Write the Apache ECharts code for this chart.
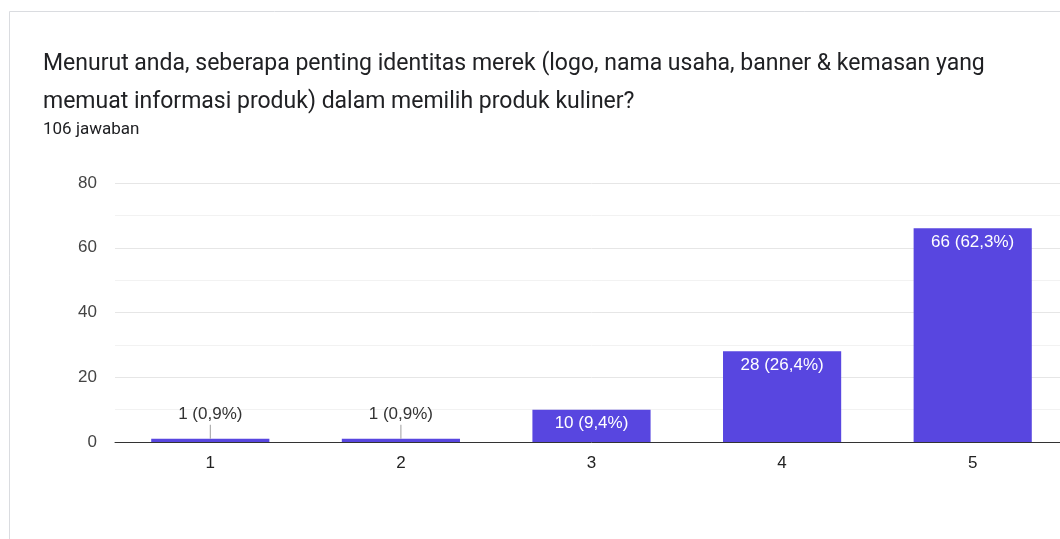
<!DOCTYPE html>
<html>
<head>
<meta charset="utf-8">
<script src="https://cdn.jsdelivr.net/npm/echarts@6/dist/echarts.min.js"></script>
<style>
  html, body { margin: 0; padding: 0; background: #fff; overflow: hidden; }
  /* the plot runs a few px past the right edge of the window in the original */
  #main { width: 1068px; height: 539px; }
</style>
</head>
<body>
<div id="main"></div>
<script>
var categories = ['1', '2', '3', '4', '5'];
var counts = [1, 1, 10, 28, 66];
var percents = ['0,9', '0,9', '9,4', '26,4', '62,3'];
var yTicks = [0, 20, 40, 60, 80];

var barColor = '#5846e0';
var font = 'Roboto, "Noto Sans", sans-serif';
var chartFont = '"Liberation Sans", Arial, sans-serif';

// small bars get the label above with a little leader line, the rest inside
var barData = [];
for (var i = 0; i < counts.length; i++) {
	var txt = counts[i] + ' (' + percents[i] + '%)';
	if (counts[i] < 5) {
		barData.push({
			value: counts[i],
			label: {
				show: true,
				position: 'top',
				distance: 0,
				formatter: '{t|' + txt + '}\n{l|}',
				rich: {
					t: { color: '#333', fontSize: 17, fontFamily: chartFont, lineHeight: 20, align: 'center' },
					l: { width: 1, height: 14, backgroundColor: '#9e9e9e', align: 'center' }
				}
			}
		});
	} else {
		barData.push({
			value: counts[i],
			label: {
				show: true,
				position: 'insideTop',
				distance: 5,
				formatter: txt,
				color: '#fff',
				fontSize: 17,
				fontFamily: chartFont
			}
		});
	}
}

var chart = echarts.init(document.getElementById('main'));
var option = {
	backgroundColor: '#fff',
	animation: false,
	textStyle: { fontFamily: font },
	graphic: [{
		type: 'rect',
		shape: { x: 9.5, y: 11.5, width: 1100, height: 600 },
		style: { fill: 'none', stroke: '#dadce0', lineWidth: 1 },
		z: 0
	}],
	title: {
		left: 43,
		top: 45,
		text: 'Menurut anda, seberapa penting identitas merek (logo, nama usaha, banner & kemasan yang\nmemuat informasi produk) dalam memilih produk kuliner?',
		textStyle: { color: '#202124', fontSize: 23, fontWeight: 'normal', lineHeight: 38, fontFamily: font },
		subtext: '106 jawaban',
		subtextStyle: { color: '#202124', fontSize: 17, lineHeight: 18, fontFamily: font },
		itemGap: 0,
		padding: 0
	},
	grid: { left: 115, top: 183, bottom: 97, right: 0, containLabel: false },
	xAxis: {
		type: 'category',
		data: categories,
		axisLine: { show: true, lineStyle: { color: '#333', width: 1 } },
		axisTick: { show: false },
		axisLabel: { color: '#222', fontSize: 17, margin: 13, fontFamily: chartFont }
	},
	yAxis: {
		type: 'value',
		min: yTicks[0],
		max: yTicks[yTicks.length - 1],
		interval: 20,
		axisLine: { show: false },
		axisTick: { show: false },
		axisLabel: { color: '#444', fontSize: 17, margin: 18, fontFamily: chartFont },
		splitLine: { lineStyle: { color: '#e6e6e6' } },
		minorTick: { show: false, splitNumber: 2 },
		minorSplitLine: { show: true, lineStyle: { color: '#f2f2f2' } }
	},
	series: [{
		type: 'bar',
		data: barData,
		barWidth: '62%',
		itemStyle: { color: barColor },
		z: 3
	}]
};
chart.setOption(option);
</script>
</body>
</html>
